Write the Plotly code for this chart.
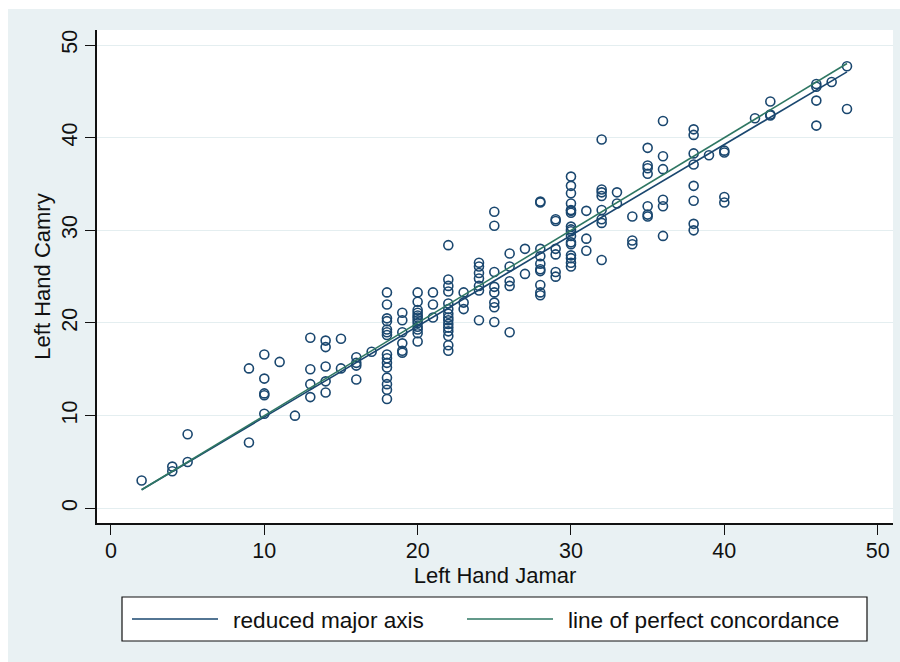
import plotly.graph_objects as go

# ---------------- data ----------------
jamar = (
    [2] + [4] * 2 + [5] * 2 + [9] * 2 + [10] * 5 + [11] + [12] + [13] * 4 + [14] * 5 + [15] * 2 + [16] * 4 + [17]
    + [18] * 15 + [19] * 6 + [20] * 12 + [21] * 3 + [22] * 15 + [23] * 3 + [24] * 7 + [25] * 8 + [26] * 5
    + [27] * 2 + [28] * 10 + [29] * 6 + [30] * 17 + [31] * 3 + [32] * 8 + [33] * 2 + [34] * 3 + [35] * 7
    + [36] * 6 + [38] * 8 + [39] + [40] * 4 + [42] + [43] * 3 + [46] * 4 + [47] + [48] * 2
)
camry = [
    3.0,
    4.5, 4.0,
    8.0, 5.0,
    15.1, 7.1,
    16.6, 14.0, 12.4, 12.2, 10.2,
    15.8,
    10.0,
    18.4, 15.0, 13.4, 12.0,
    18.1, 17.4, 15.3, 13.7, 12.5,
    18.3, 15.1,
    16.3, 15.7, 15.4, 13.9,
    16.9,
    23.3, 22.0, 20.5, 20.2, 19.3, 19.0, 18.7, 16.6, 16.2, 15.7, 15.2, 14.1, 13.4, 12.8, 11.8,
    21.1, 20.3, 19.0, 17.8, 17.0, 16.8,
    23.3, 22.3, 21.4, 21.1, 20.8, 20.6, 20.3, 20.0, 19.6, 19.3, 18.9, 18.0,
    23.3, 22.0, 20.6,
    28.4, 24.7, 24.0, 23.4, 22.1, 21.5, 21.0, 20.6, 20.3, 19.9, 19.5, 19.1, 18.6, 17.6, 17.0,
    23.3, 22.2, 21.5,
    26.5, 26.1, 25.4, 24.8, 24.0, 23.5, 20.3,
    32.0, 30.5, 25.5, 23.9, 23.3, 22.2, 21.7, 20.1,
    27.5, 26.1, 24.5, 24.0, 19.0,
    28.0, 25.3,
    33.1, 33.0, 28.0, 27.2, 26.4, 25.8, 25.6, 24.1, 23.3, 23.0,
    31.2, 31.0, 28.0, 27.4, 25.5, 25.0,
    35.8, 34.8, 34.0, 32.9, 32.2, 32.1, 31.9, 30.4, 30.1, 29.9, 29.4, 28.7, 28.5, 27.3, 27.0, 26.5, 26.1,
    32.1, 29.1, 27.8,
    39.8, 34.4, 34.1, 33.7, 32.2, 31.2, 30.8, 26.8,
    34.1, 32.9,
    31.5, 28.9, 28.5,
    38.9, 37.0, 36.7, 36.1, 32.6, 31.7, 31.5,
    41.8, 38.0, 36.6, 33.3, 32.6, 29.4,
    40.9, 40.3, 38.3, 37.1, 34.8, 33.2, 30.7, 30.0,
    38.1,
    38.6, 38.4, 33.6, 33.0,
    42.1,
    43.9, 42.5, 42.4,
    45.8, 45.5, 44.0, 41.3,
    46.0,
    47.7, 43.1,
]

rma_x = [2, 48]
rma_y = [2.0, 47.1]
conc_x = [2, 48]
conc_y = [2, 48]

tick_vals = [0, 10, 20, 30, 40, 50]
tick_text = ["0", "10", "20", "30", "40", "50"]

legend_labels = ["reduced major axis", "line of perfect concordance"]

# ---------------- styling ----------------
NAVY = "#1a476f"
GREEN = "#2f7763"
BG = "#e9f1f3"
GRID = "#e4eef0"
FONT = "Liberation Sans, Arial, sans-serif"
FS = 21.5
FS_TITLE = 22
FS_LEG = 22.6

W, H = 900, 662
ML, MR, MT, MB = 97, 7, 30, 139
PW, PH = W - ML - MR, H - MT - MB


def px_x(p):
    return (p - ML) / PW


def px_y(p):
    return (H - MB - p) / PH


fig = go.Figure()
fig.add_trace(go.Scatter(
    x=jamar, y=camry, mode="markers", name="data",
    marker=dict(symbol="circle-open", size=9, color=NAVY, line=dict(width=1.6, color=NAVY)),
    showlegend=False,
))
fig.add_trace(go.Scatter(
    x=rma_x, y=rma_y, mode="lines", name=legend_labels[0],
    line=dict(color=NAVY, width=1.6), showlegend=False,
))
fig.add_trace(go.Scatter(
    x=conc_x, y=conc_y, mode="lines", name=legend_labels[1],
    line=dict(color=GREEN, width=1.6), showlegend=False,
))

shapes = [
    # white outer strips (top and left)
    dict(type="rect", xref="paper", yref="paper", x0=px_x(0), x1=px_x(W), y0=px_y(9), y1=px_y(0),
         fillcolor="white", line=dict(width=0), layer="below"),
    dict(type="rect", xref="paper", yref="paper", x0=px_x(0), x1=px_x(8), y0=px_y(H), y1=px_y(0),
         fillcolor="white", line=dict(width=0), layer="below"),
    # legend box
    dict(type="rect", xref="paper", yref="paper", x0=px_x(122), x1=px_x(867), y0=px_y(641), y1=px_y(597),
         fillcolor="white", line=dict(width=1.2, color="#111111")),
    dict(type="line", xref="paper", yref="paper", x0=px_x(132), x1=px_x(218), y0=px_y(619), y1=px_y(619),
         line=dict(width=1.6, color=NAVY)),
    dict(type="line", xref="paper", yref="paper", x0=px_x(467), x1=px_x(553), y0=px_y(619), y1=px_y(619),
         line=dict(width=1.6, color=GREEN)),
]
annotations = [
    dict(xref="paper", yref="paper", x=px_x(231), y=px_y(620), text=legend_labels[0], showarrow=False,
         xanchor="left", yanchor="middle", font=dict(family=FONT, size=FS_LEG, color="#111111")),
    dict(xref="paper", yref="paper", x=px_x(566), y=px_y(620), text=legend_labels[1], showarrow=False,
         xanchor="left", yanchor="middle", font=dict(family=FONT, size=FS_LEG, color="#111111")),
]

fig.update_layout(
    width=W, height=H,
    margin=dict(l=ML, r=MR, t=MT, b=MB, pad=0),
    paper_bgcolor=BG, plot_bgcolor="white",
    font=dict(family=FONT, size=FS, color="#111111"),
    shapes=shapes, annotations=annotations,
    showlegend=False,
    xaxis=dict(
        range=[-0.91, 51.0], tickvals=tick_vals, ticktext=tick_text,
        showgrid=False, zeroline=False, showline=True, linecolor="#111111", linewidth=1.5,
        ticks="outside", ticklen=10, tickwidth=1.3, tickcolor="#111111",
        title=dict(text="Left Hand Jamar", standoff=1, font=dict(family=FONT, size=FS_TITLE)),
        automargin=False,
    ),
    yaxis=dict(
        range=[-1.586, 51.62], tickvals=tick_vals, ticktext=tick_text, tickangle=-90,
        showgrid=True, gridcolor=GRID, gridwidth=1, zeroline=False,
        showline=True, linecolor="#111111", linewidth=1.5,
        ticks="outside", ticklen=10, tickwidth=1.3, tickcolor="#111111",
        title=dict(text="Left Hand Camry", standoff=1, font=dict(family=FONT, size=FS_TITLE)),
        automargin=False,
    ),
)

try:
    fig.update_xaxes(ticklabelstandoff=-3)
except (ValueError, TypeError):
    pass

fig.write_html("out.html")
